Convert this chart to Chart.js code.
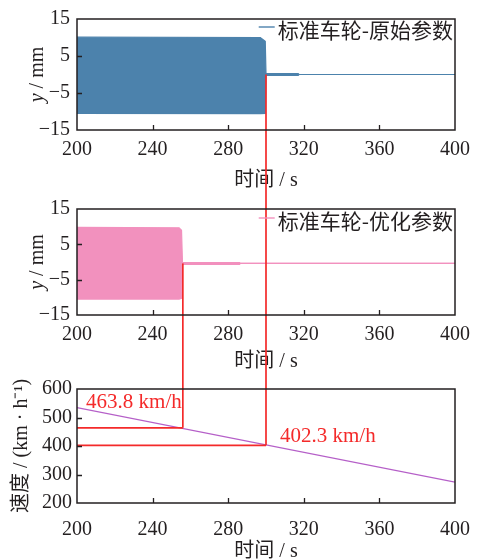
<!DOCTYPE html>
<html>
<head>
<meta charset="utf-8">
<script src="https://cdn.jsdelivr.net/npm/chart.js@4.4.1/dist/chart.umd.min.js"></script>
<style>
  body { margin: 0; background: #fff; width: 477px; height: 560px; position: relative; overflow: hidden; }
  .box { position: absolute; left: 0; width: 477px; }
</style>
</head>
<body>
<div class="box" style="top:0;height:190px"><canvas id="c1"></canvas></div>
<div class="box" style="top:190px;height:180px"><canvas id="c2"></canvas></div>
<div class="box" style="top:370px;height:190px"><canvas id="c3"></canvas></div>
<script>
// 刻度
const timeTicks = [200, 240, 280, 320, 360, 400];
const dispTicks = [-15, -5, 5, 15];
const speedTicks = [200, 300, 400, 500, 600];

// 标准车轮-原始参数 (振动包络: 上 / 下)
const origTime  = [200, 297, 299.6, 300, 317, 317.5, 400];
const origUpper = [10.1, 10.0, 9.0, 0.25, 0.25, 0, 0];
const origLower = [-10.5, -10.6, -10.5, -0.25, -0.25, 0, 0];

// 标准车轮-优化参数
const optTime  = [200, 254, 255.3, 255.8, 286, 286.5, 400];
const optUpper = [9.8, 9.7, 9.0, -0.15, -0.15, -0.4, -0.4];
const optLower = [-10.5, -10.5, -10.3, -0.65, -0.65, -0.4, -0.4];

// 速度
const speedTime = [200, 400];
const speedVal  = [535, 273];

// 失稳临界点
const markTime   = [256, 300];
const markSpeed  = [463.8, 402.3];
const markFlat   = [-0.4, 0];
const markLabels = ['463.8 km/h', '402.3 km/h'];

const INK = '#231f20';
const RED = '#f42a2a';
const SERIF = '"Liberation Serif", "Noto Sans CJK SC", serif';

const pts = (xs, ys) => xs.map((x, i) => ({ x: x, y: ys[i] }));
const minus = v => String(v).replace('-', '\u2212');

function band(xs, hi, lo, color, label) {
  return [
    { label: label, data: pts(xs, hi), borderColor: color, backgroundColor: color,
      borderWidth: 1.2, pointRadius: 0, fill: '+1', tension: 0 },
    { label: '', data: pts(xs, lo), borderColor: color, backgroundColor: color,
      borderWidth: 1.2, pointRadius: 0, fill: false, tension: 0 }
  ];
}

// 边框 + 内向刻度
function drawFrame(chart) {
  const { ctx, chartArea: a, scales } = chart;
  ctx.save();
  ctx.strokeStyle = INK;
  ctx.lineWidth = 1.5;
  ctx.strokeRect(a.left, a.top, a.right - a.left, a.bottom - a.top);
  ctx.lineWidth = 1.3;
  ctx.beginPath();
  scales.x.ticks.forEach(t => {
    if (t.value === scales.x.min || t.value === scales.x.max) return;
    const px = Math.round(scales.x.getPixelForValue(t.value)) + 0.5;
    ctx.moveTo(px, a.bottom); ctx.lineTo(px, a.bottom - 5);
  });
  scales.y.ticks.forEach(t => {
    if (t.value === scales.y.min || t.value === scales.y.max) return;
    const py = Math.round(scales.y.getPixelForValue(t.value)) + 0.5;
    ctx.moveTo(a.left, py); ctx.lineTo(a.left + 5, py);
  });
  ctx.stroke();
  ctx.restore();
}

function drawLegend(chart, text, color, dy) {
  const { ctx, chartArea: a } = chart;
  ctx.save();
  ctx.font = '21px "Noto Sans CJK SC"';
  ctx.fillStyle = INK;
  ctx.textAlign = 'right';
  ctx.textBaseline = 'middle';
  const y = a.top + dy;
  const xr = a.right - 2;
  ctx.fillText(text, xr, y);
  const w = ctx.measureText(text).width;
  ctx.strokeStyle = color;
  ctx.lineWidth = 1.4;
  ctx.beginPath();
  ctx.moveTo(xr - w - 19, y - 3);
  ctx.lineTo(xr - w - 3, y - 3);
  ctx.stroke();
  ctx.restore();
}

function drawYTitle(chart, cx) {
  const { ctx, chartArea: a } = chart;
  const cy = (a.top + a.bottom) / 2;
  ctx.save();
  ctx.translate(cx, cy);
  ctx.rotate(-Math.PI / 2);
  ctx.fillStyle = INK;
  ctx.textBaseline = 'middle';
  ctx.textAlign = 'left';
  const fi = 'italic 20px "Liberation Serif"';
  const fr = '20px "Liberation Serif"';
  ctx.font = fi; const w1 = ctx.measureText('y').width;
  ctx.font = fr; const w2 = ctx.measureText(' / mm').width;
  const x0 = -(w1 + w2) / 2;
  ctx.font = fi; ctx.fillText('y', x0, 0);
  ctx.font = fr; ctx.fillText(' / mm', x0 + w1, 0);
  ctx.restore();
}

function redLine(ctx, x1, y1, x2, y2) {
  ctx.save();
  ctx.strokeStyle = RED;
  ctx.lineWidth = 1.7;
  ctx.beginPath();
  ctx.moveTo(x1, y1); ctx.lineTo(x2, y2);
  ctx.stroke();
  ctx.restore();
}

function baseOptions(o) {
  return {
    responsive: true,
    maintainAspectRatio: false,
    animation: false,
    layout: { padding: { left: 0, right: 22, top: o.padTop, bottom: 0 } },
    plugins: { legend: { display: false }, tooltip: { enabled: false } },
    scales: {
      x: {
        type: 'linear', min: 200, max: 400,
        afterBuildTicks: s => { s.ticks = timeTicks.map(v => ({ value: v })); },
        afterFit: s => { s.height = o.xHeight; s.paddingLeft = 0; s.paddingRight = 0; },
        grid: { display: false, drawTicks: false },
        border: { display: false },
        ticks: { color: INK, font: { family: SERIF, size: 20 }, padding: o.xTickPad, maxRotation: 0 },
        title: { display: true, text: '时间 / s', color: INK,
                 font: { family: SERIF, size: 20, lineHeight: 1 },
                 padding: { top: 0, bottom: o.xTitlePad } }
      },
      y: {
        type: 'linear', min: o.yMin, max: o.yMax,
        afterBuildTicks: s => { s.ticks = o.yTicks.map(v => ({ value: v })); },
        afterFit: s => { s.width = 77; },
        grid: { display: false, drawTicks: false },
        border: { display: false },
        ticks: { color: INK, font: { family: SERIF, size: 20 }, padding: o.yTickPad, callback: minus },
        title: o.yTitle || { display: false }
      }
    }
  };
}

// 图1: 原始参数
new Chart(document.getElementById('c1'), {
  type: 'line',
  data: { datasets: band(origTime, origUpper, origLower, '#4c82ac', '标准车轮-原始参数') },
  options: baseOptions({ padTop: 17, xHeight: 60, xTickPad: 8, xTitlePad: -1,
                         yMin: -15, yMax: 15, yTicks: dispTicks, yTickPad: 7 }),
  plugins: [{
    id: 'deco1',
    afterDatasetsDraw(chart) {
      const { x, y } = chart.scales;
      const px = x.getPixelForValue(markTime[1]);
      redLine(chart.ctx, px, y.getPixelForValue(markFlat[1]), px, chart.height);
    },
    afterDraw(chart) {
      drawFrame(chart);
      drawLegend(chart, '标准车轮-原始参数', '#4c82ac', 11);
      drawYTitle(chart, 38);
    }
  }]
});

// 图2: 优化参数
new Chart(document.getElementById('c2'), {
  type: 'line',
  data: { datasets: band(optTime, optUpper, optLower, '#f291be', '标准车轮-优化参数') },
  options: baseOptions({ padTop: 12, xHeight: 55, xTickPad: 8, xTitlePad: -2,
                         yMin: -15, yMax: 15, yTicks: dispTicks, yTickPad: 7 }),
  plugins: [{
    id: 'deco2',
    afterDatasetsDraw(chart) {
      const { x, y } = chart.scales;
      const p0 = x.getPixelForValue(markTime[0]);
      redLine(chart.ctx, p0, y.getPixelForValue(markFlat[0]), p0, chart.height);
      const p1 = x.getPixelForValue(markTime[1]);
      redLine(chart.ctx, p1, 0, p1, chart.height);
    },
    afterDraw(chart) {
      drawFrame(chart);
      drawLegend(chart, '标准车轮-优化参数', '#f291be', 12);
      drawYTitle(chart, 38);
    }
  }]
});

// 图3: 速度
new Chart(document.getElementById('c3'), {
  type: 'line',
  data: { datasets: [{ label: '速度', data: pts(speedTime, speedVal), borderColor: '#b55fc8',
                       borderWidth: 1.2, pointRadius: 0, fill: false, tension: 0 }] },
  options: baseOptions({ padTop: 19, xHeight: 57, xTickPad: 15, xTitlePad: -2,
                         yMin: 200, yMax: 600, yTicks: speedTicks, yTickPad: 5,
                         yTitle: { display: true, text: '速度 / (km · h⁻¹)', color: INK,
                                   font: { family: SERIF, size: 20, lineHeight: 1 },
                                   padding: { top: 12, bottom: 0 } } }),
  plugins: [{
    id: 'deco3',
    afterDatasetsDraw(chart) {
      const { x, y } = chart.scales;
      const ctx = chart.ctx;
      markTime.forEach((t, i) => {
        const px = x.getPixelForValue(t);
        const py = y.getPixelForValue(markSpeed[i]);
        redLine(ctx, x.getPixelForValue(200), py, px, py);
        redLine(ctx, px, py, px, 0);
      });
      ctx.save();
      ctx.fillStyle = RED;
      ctx.font = '21px "Liberation Serif"';
      ctx.textAlign = 'left';
      ctx.textBaseline = 'middle';
      ctx.fillText(markLabels[0], x.getPixelForValue(204.8), y.getPixelForValue(551));
      ctx.fillText(markLabels[1], x.getPixelForValue(307.4), y.getPixelForValue(432));
      ctx.restore();
    },
    afterDraw(chart) {
      drawFrame(chart);
    }
  }]
});
</script>
</body>
</html>
